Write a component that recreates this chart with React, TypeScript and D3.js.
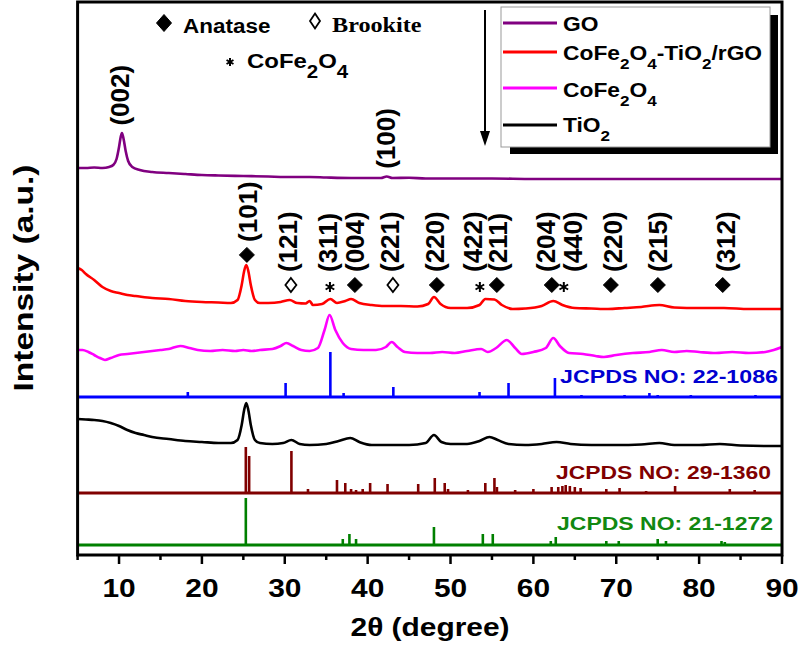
import React from 'react';
import * as d3 from 'd3';

// ---------- data (2θ in degrees, intensity in a.u.) ----------
const goPattern: [number, number][] = [
  [5, 11], [6, 11], [7, 11.5], [8, 11], [8.8, 12], [9.3, 14], [9.7, 20], [10.0, 32], [10.2, 42], [10.35, 46],
  [10.55, 40], [10.8, 28], [11.1, 18], [11.6, 12], [12.5, 9], [14, 7], [16, 6], [18, 5], [20, 4], [22, 3.5],
  [25, 3], [28, 2.5], [30, 2], [33, 2], [35, 1.5], [38, 1], [40, 1], [41.6, 1], [42.3, 2.5], [43, 1],
  [45, 1.2], [47, 0.5], [50, 0.5], [55, 0.5], [60, 0], [70, 0], [80, 0], [90, 0],
];

const compositePattern: [number, number][] = [
  [5, 41], [5.5, 39], [6, 35], [7, 29], [8, 22], [9, 18], [10, 16], [11, 14], [12, 13], [14, 11], [16, 10],
  [18, 8], [20, 7], [22, 6.5], [23.5, 6], [24.3, 9], [24.8, 24], [25.1, 38], [25.35, 44], [25.6, 38],
  [25.9, 24], [26.4, 9], [27, 6], [28, 6], [29.5, 7], [30.6, 9], [31.5, 6], [32.5, 5.5], [33.0, 8],
  [33.4, 4], [34.5, 5], [35.5, 10], [36.3, 6], [37.3, 8], [38.0, 10], [39, 6], [40.5, 4], [42, 3], [44, 3],
  [46, 2.5], [47.3, 5], [48.0, 12], [48.8, 5], [50, 1], [52, 1], [53.5, 4], [54.2, 10], [55.3, 9.5],
  [56.2, 4], [57.5, 0], [59, 0.5], [61, 3], [62.4, 8], [63.5, 4], [65, 1], [67, 0.5], [69, 0], [71, 1],
  [73, 2], [75.2, 4], [77, 1.5], [80, 1], [83, 1], [86, 0], [90, 0],
];

const cofePattern: [number, number][] = [
  [5, 2], [5.6, 2], [6.3, 0], [7, -3], [7.7, -6], [8.3, -8], [9, -6], [10, -3], [11, -2], [12, -1], [13, 0],
  [14, 1], [15, 2], [16, 3], [17.4, 6], [18.5, 4], [19.5, 2], [21, 1], [22.5, 2], [24, 1], [25, 2], [26, 1],
  [27, 2], [28.5, 3], [29.5, 6], [30.2, 9], [31, 6], [32, 2], [33, 1], [34, 4], [34.8, 22], [35.4, 37],
  [36.1, 22], [37, 9], [38, 3], [39.5, 2], [41, 2], [42.2, 5], [42.9, 10], [43.6, 5], [44.5, 0], [46, -1],
  [47.5, -1], [49, 0], [50.5, -1], [52, 1], [53.7, 3], [54.5, 0], [55.5, 4], [56.8, 12], [57.8, 4],
  [58.6, -2], [60, 0], [61.5, 4], [62.4, 14], [63.2, 6], [64.3, -1], [66, -2], [67.5, -4], [68.5, -5],
  [70, -3], [72, -1], [74, 0], [75.5, 2], [77, 0], [78.5, 1], [80, 0], [82, -1], [84, 0], [86, -1], [88, 0],
  [89, 2], [90, 5],
];

const tio2Pattern: [number, number][] = [
  [5, 27], [6, 26.5], [7, 26], [8, 25], [9, 23], [10, 20], [11, 16], [12, 13], [13, 11], [14, 9], [16, 7],
  [18, 5], [20, 4], [22, 3], [23.5, 3], [24.3, 6], [24.8, 21], [25.1, 36], [25.35, 43], [25.6, 36],
  [25.9, 21], [26.4, 6], [27, 3], [28.5, 2], [29.8, 3], [30.8, 6], [31.8, 2], [33, 1], [35, 2], [36.5, 5],
  [37.9, 8], [39, 4], [40.5, 1], [43, 1], [45, 1], [47, 3], [48, 11], [48.9, 4], [50, 2], [52, 2],
  [53.5, 5], [54.7, 9], [55.7, 6], [57, 2], [59, 1], [61, 2], [62.8, 4], [64.5, 2], [67, 1], [70, 1],
  [73, 1.5], [75.2, 3], [77, 1], [80, 1], [82.5, 2], [85, 0.5], [88, 0], [90, 0],
];

// reference stick patterns [2θ, relative height]
const jcpds221086: [number, number][] = [
  [18.3, 5], [30.1, 14], [35.5, 45], [37.1, 4], [43.1, 10], [53.5, 5], [57.0, 14], [62.6, 19],
  [65.8, 2], [71.0, 2], [74.0, 4], [75.0, 2], [79.0, 2], [86.8, 2],
];
const jcpds291360: [number, number][] = [
  [25.3, 46], [25.7, 37], [30.8, 42], [32.8, 4], [36.3, 13], [37.3, 10], [38.0, 4], [38.6, 3], [39.4, 4],
  [40.3, 10], [42.4, 9], [46.1, 9], [48.1, 15], [49.3, 10], [49.7, 4], [52.1, 3], [54.2, 10], [55.3, 15],
  [55.6, 6], [57.8, 3], [60.0, 4], [62.2, 6], [63.0, 6], [63.5, 7], [63.9, 8], [64.4, 7], [65.0, 6],
  [65.7, 5], [68.8, 4], [70.4, 5], [73.6, 2], [77.1, 7], [83.7, 4], [86.7, 3],
];
const jcpds211272: [number, number][] = [
  [25.3, 47], [37.0, 6], [37.8, 11], [38.6, 6], [48.0, 18], [53.9, 11], [55.1, 11], [62.1, 4], [62.7, 8],
  [68.8, 4], [70.3, 4], [75.0, 6], [76.0, 4], [82.7, 4], [83.1, 3],
];

// peak annotations
const goLabels = [
  { theta: 10.37, hkl: '(002)' },
  { theta: 42.45, hkl: '(100)' },
];
type Mark = 'anatase' | 'brookite' | 'cofe';
const compositeLabels: { theta: number; labelTheta: number; hkl: string; mark: Mark }[] = [
  { theta: 25.43, labelTheta: 25.8, hkl: '(101)', mark: 'anatase' },
  { theta: 30.74, labelTheta: 30.62, hkl: '(121)', mark: 'brookite' },
  { theta: 35.45, labelTheta: 35.45, hkl: '(311)', mark: 'cofe' },
  { theta: 38.46, labelTheta: 38.7, hkl: '(004)', mark: 'anatase' },
  { theta: 43.05, labelTheta: 42.93, hkl: '(221)', mark: 'brookite' },
  { theta: 48.35, labelTheta: 48.35, hkl: '(220)', mark: 'anatase' },
  { theta: 53.54, labelTheta: 52.94, hkl: '(422)', mark: 'cofe' },
  { theta: 55.59, labelTheta: 55.95, hkl: '(211)', mark: 'anatase' },
  { theta: 62.22, labelTheta: 61.74, hkl: '(204)', mark: 'anatase' },
  { theta: 63.67, labelTheta: 65.0, hkl: '(440)', mark: 'cofe' },
  { theta: 69.35, labelTheta: 69.83, hkl: '(220)', mark: 'anatase' },
  { theta: 75.02, labelTheta: 75.26, hkl: '(215)', mark: 'anatase' },
  { theta: 82.85, labelTheta: 83.46, hkl: '(312)', mark: 'anatase' },
];

const majorTicks = [10, 20, 30, 40, 50, 60, 70, 80, 90];
const minorTicks = [5, 15, 25, 35, 45, 55, 65, 75, 85];

// ---------- layout ----------
const SANS = "Arial, 'Liberation Sans', Helvetica, sans-serif";
const SERIF = "'Times New Roman', 'Liberation Serif', serif";
const PL = 77.6, PR = 782, PT = 2, PB = 555;
const OFF = { go: 376, comp: 246, cofe: 203, ref22: 158, tio2: 109, ref29: 62, ref21: 10 };
const C = { go: '#800080', comp: '#ff0000', cofe: '#ff00ff', ref22: '#0000ff', tio2: '#000000', ref29: '#800000', ref21: '#008000' };

function HText(props: { x: number; y: number; size: number; sx?: number; anchor?: string; fill?: string; family?: string; children: React.ReactNode }) {
  const { x, y, size, sx = 1.15, anchor = 'start', fill = '#000', family = SANS, children } = props;
  return (
    <g transform={`translate(${x},${y}) scale(${sx},1)`}>
      <text x={0} y={0} fontSize={size} fontFamily={family} fontWeight="bold" textAnchor={anchor as any} fill={fill}>{children}</text>
    </g>
  );
}

function Diamond({ cx, cy, hw, hh, filled }: { cx: number; cy: number; hw: number; hh: number; filled: boolean }) {
  const d = `M${cx},${cy - hh}L${cx + hw},${cy}L${cx},${cy + hh}L${cx - hw},${cy}Z`;
  return <path d={d} fill={filled ? '#000' : '#fff'} stroke="#000" strokeWidth={filled ? 1 : 1.8} />;
}

function Asterisk({ cx, cy, r }: { cx: number; cy: number; r: number }) {
  const arms = [90, 30, -30].map((a) => {
    const rad = (a * Math.PI) / 180;
    const dx = r * Math.cos(rad), dy = r * Math.sin(rad);
    return `M${cx - dx},${cy - dy}L${cx + dx},${cy + dy}`;
  });
  return <path d={arms.join('')} stroke="#000" strokeWidth={2} fill="none" />;
}

export default function App() {
  const x = d3.scaleLinear().domain([5, 90]).range([PL, PR]);
  const y = d3.scaleLinear().domain([0, 552]).range([PB, PB - 552]);

  const mkLine = (off: number) =>
    d3.line<[number, number]>().x((d) => x(d[0])).y((d) => y(off + d[1])).curve(d3.curveMonotoneX);

  const curves = [
    { data: goPattern, off: OFF.go, color: C.go },
    { data: compositePattern, off: OFF.comp, color: C.comp },
    { data: cofePattern, off: OFF.cofe, color: C.cofe },
    { data: tio2Pattern, off: OFF.tio2, color: C.tio2 },
  ];
  const sticks = [
    { data: jcpds221086, off: OFF.ref22, color: C.ref22, label: 'JCPDS NO: 22-1086', lx: 560, ly: 383, lw: 218, fill: '#0000d0' },
    { data: jcpds291360, off: OFF.ref29, color: C.ref29, label: 'JCPDS NO: 29-1360', lx: 556, ly: 479, lw: 215, fill: '#800000' },
    { data: jcpds211272, off: OFF.ref21, color: C.ref21, label: 'JCPDS NO: 21-1272', lx: 557, ly: 530, lw: 216, fill: '#118811' },
  ];

  const interp = (data: [number, number][], t: number) => {
    for (let i = 1; i < data.length; i++) {
      if (data[i][0] >= t) {
        const [x0, y0] = data[i - 1];
        const [x1, y1] = data[i];
        return y0 + ((y1 - y0) * (t - x0)) / (x1 - x0);
      }
    }
    return data[data.length - 1][1];
  };

  const rotLabel = (cx: number, bottom: number, txt: string, key: string) => (
    <text key={key} transform={`translate(${cx + 6.7},${bottom}) rotate(-90)`} fontSize={26} fontFamily={SANS} fontWeight="bold" fill="#000">
      {txt}
    </text>
  );

  const legendItems = [
    { color: C.go, ly: 23, ty: 31, parts: [['GO', false]] },
    { color: C.comp, ly: 52, ty: 60, parts: [['CoFe', false], ['2', true], ['O', false], ['4', true], ['-TiO', false], ['2', true], ['/rGO', false]] },
    { color: C.cofe, ly: 88, ty: 97, parts: [['CoFe', false], ['2', true], ['O', false], ['4', true]] },
    { color: C.tio2, ly: 125, ty: 132, parts: [['TiO', false], ['2', true]] },
  ] as { color: string; ly: number; ty: number; parts: [string, boolean][] }[];

  const subParts = (parts: [string, boolean][], subSize: number, shift: number) => {
    let cur = 0;
    return parts.map(([s, sub], i) => {
      const target = sub ? shift : 0;
      const dy = target - cur;
      cur = target;
      return (
        <tspan key={i} dy={dy} fontSize={sub ? subSize : undefined}>{s}</tspan>
      );
    });
  };

  return (
    <svg width={800} height={646} style={{ position: 'absolute', left: 0, top: 0, background: '#fff' }}>
      <rect x={0} y={0} width={800} height={646} fill="#fff" />
      <defs>
        <clipPath id="plotclip">
          <rect x={PL} y={PT} width={PR - PL} height={PB - PT} />
        </clipPath>
      </defs>

      <g clipPath="url(#plotclip)">
        {sticks.map((s, i) => (
          <g key={i}>
            <line x1={x(5)} x2={x(90)} y1={y(s.off)} y2={y(s.off)} stroke={s.color} strokeWidth={3} />
            {s.data.map((d, j) => (
              <line key={j} x1={x(d[0])} x2={x(d[0])} y1={y(s.off)} y2={y(s.off + d[1])} stroke={s.color} strokeWidth={2.6} />
            ))}
          </g>
        ))}
        {curves.map((c, i) => (
          <path key={i} d={mkLine(c.off)(c.data) || ''} fill="none" stroke={c.color} strokeWidth={2.6} strokeLinejoin="round" />
        ))}
      </g>

      {sticks.map((s, i) => (
        <text key={i} x={s.lx} y={s.ly} fontSize={19} fontFamily={SANS} fontWeight="bold" fill={s.fill} textLength={s.lw} lengthAdjust="spacingAndGlyphs">
          {s.label}
        </text>
      ))}

      {/* GO annotations */}
      {goLabels.map((g, i) => {
        const py = y(OFF.go + interp(goPattern, g.theta));
        return rotLabel(x(g.theta), py - 8, g.hkl, 'go' + i);
      })}

      {/* composite annotations */}
      {compositeLabels.map((a, i) => {
        const peakPx = y(OFF.comp + interp(compositePattern, a.theta));
        const my = Math.min(y(OFF.comp + 24), peakPx - 12);
        const mx = x(a.theta);
        return (
          <g key={'c' + i}>
            {a.mark === 'anatase' && <Diamond cx={mx} cy={my} hw={7.5} hh={7.5} filled={true} />}
            {a.mark === 'brookite' && <Diamond cx={mx} cy={my} hw={5.5} hh={7} filled={false} />}
            {a.mark === 'cofe' && <Asterisk cx={mx} cy={my + 2} r={5} />}
            {rotLabel(x(a.labelTheta), my - 13, a.hkl, 'l' + i)}
          </g>
        );
      })}

      {/* frame */}
      <rect x={PL} y={PT} width={PR - PL} height={PB - PT} fill="none" stroke="#000" strokeWidth={3} />

      {/* x ticks */}
      {majorTicks.map((t) => (
        <line key={'M' + t} x1={x(t)} x2={x(t)} y1={PB} y2={PB + 9} stroke="#000" strokeWidth={2.5} />
      ))}
      {minorTicks.map((t) => (
        <line key={'m' + t} x1={x(t)} x2={x(t)} y1={PB} y2={PB + 5} stroke="#000" strokeWidth={2.5} />
      ))}
      {majorTicks.map((t) => (
        <HText key={'L' + t} x={x(t)} y={597} size={26} anchor="middle">{String(t)}</HText>
      ))}

      {/* axis titles */}
      <HText x={430} y={636} size={26} anchor="middle">2θ (degree)</HText>
      <text transform={`translate(33,278) rotate(-90)`} fontSize={28} fontFamily={SANS} fontWeight="bold" textAnchor="middle" textLength={227} lengthAdjust="spacingAndGlyphs">
        Intensity (a.u.)
      </text>

      {/* phase key */}
      <Diamond cx={164} cy={23} hw={7.5} hh={8.5} filled={true} />
      <HText x={183} y={33} size={21} sx={1.07}>Anatase</HText>
      <Diamond cx={315} cy={21} hw={5} hh={7.5} filled={false} />
      <HText x={332} y={32} size={22} sx={1.1} family={SERIF}>Brookite</HText>
      <Asterisk cx={230} cy={62} r={4} />
      <HText x={247} y={68} size={21} sx={1.14}>
        {subParts([['CoFe', false], ['2', true], ['O', false], ['4', true]], 18, 10)}
      </HText>

      {/* legend */}
      <rect x={510} y={15} width={268} height={139} fill="#000" />
      <rect x={501} y={7} width={269} height={140} fill="#fff" stroke="#999" strokeWidth={1} />
      {legendItems.map((it, i) => (
        <g key={'lg' + i}>
          <line x1={503} x2={557} y1={it.ly} y2={it.ly} stroke={it.color} strokeWidth={3} />
          <HText x={563} y={it.ty} size={20} sx={1.14}>{subParts(it.parts, 15, 9)}</HText>
        </g>
      ))}

      {/* arrow */}
      <line x1={485} x2={485} y1={10} y2={134} stroke="#000" strokeWidth={2} />
      <path d="M480,131L490,131L485,146Z" fill="#000" />
    </svg>
  );
}
